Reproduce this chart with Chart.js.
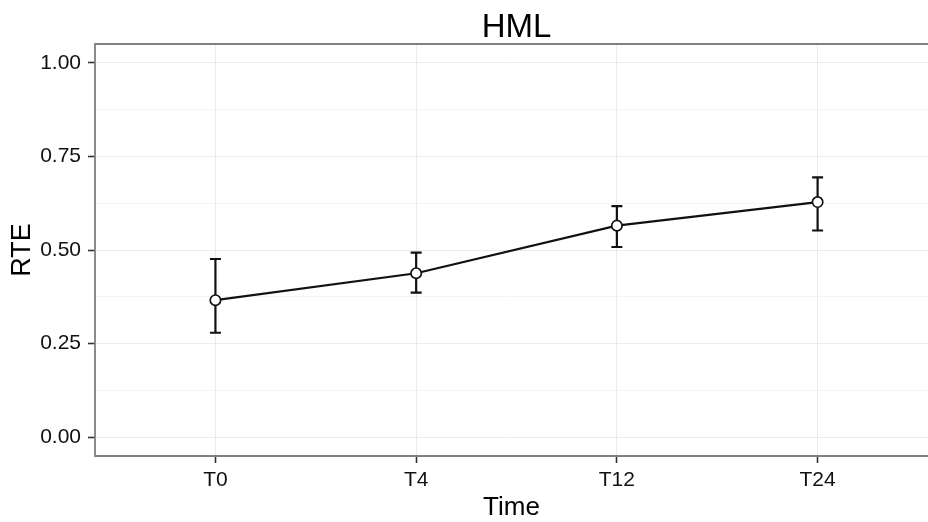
<!DOCTYPE html>
<html>
<head>
<meta charset="utf-8">
<script src="https://cdn.jsdelivr.net/npm/chart.js@4.4.1/dist/chart.umd.min.js"></script>
<style>
  html, body { margin: 0; padding: 0; background: #ffffff; overflow: hidden; }
  canvas { display: block; }
</style>
</head>
<body>
<canvas id="c" width="928" height="522"></canvas>
<script>
const categories = ['T0', 'T4', 'T12', 'T24'];
const rteMean  = [0.366, 0.438, 0.565, 0.628];
const rteLower = [0.279, 0.386, 0.508, 0.552];
const rteUpper = [0.476, 0.493, 0.617, 0.694];
const yMajorTicks = [0, 0.25, 0.5, 0.75, 1];
const yMinorTicks = [0.125, 0.375, 0.625, 0.875];
const chartTitle = 'HML';

const FONT = "'Liberation Sans', Arial, Helvetica, sans-serif";
const isMajor = v => yMajorTicks.some(m => Math.abs(m - v) < 1e-9);

const errorBars = {
  id: 'errorBars',
  beforeDatasetsDraw(chart) {
    const { ctx, scales: { x, y } } = chart;
    ctx.save();
    ctx.strokeStyle = '#111111';
    ctx.lineWidth = 2.2;
    categories.forEach((c, i) => {
      const px = x.getPixelForValue(i);
      const yl = y.getPixelForValue(rteLower[i]);
      const yu = y.getPixelForValue(rteUpper[i]);
      ctx.beginPath();
      ctx.moveTo(px, yl); ctx.lineTo(px, yu);
      ctx.moveTo(px - 5.5, yl); ctx.lineTo(px + 5.5, yl);
      ctx.moveTo(px - 5.5, yu); ctx.lineTo(px + 5.5, yu);
      ctx.stroke();
    });
    ctx.restore();
  }
};

const panelBorderAndTitle = {
  id: 'panelBorderAndTitle',
  afterDraw(chart) {
    const { ctx, chartArea: a, scales: { x } } = chart;
    ctx.save();
    ctx.strokeStyle = '#808080';
    ctx.lineWidth = 1.8;
    ctx.beginPath();
    ctx.moveTo(a.right + 2, a.top);
    ctx.lineTo(a.left, a.top);
    ctx.lineTo(a.left, a.bottom);
    ctx.lineTo(a.right + 2, a.bottom);
    ctx.stroke();
    // plot title centred over the (wider, cropped) panel
    const cx = (x.getPixelForValue(x.min) + x.getPixelForValue(-0.6 + 4.2)) / 2;
    ctx.fillStyle = '#000000';
    ctx.font = "33px " + FONT;
    ctx.textAlign = 'center';
    ctx.textBaseline = 'alphabetic';
    ctx.fillText(chartTitle, cx, 37);
    ctx.restore();
  }
};

new Chart(document.getElementById('c'), {
  type: 'line',
  data: {
    datasets: [{
      data: categories.map((c, i) => ({ x: i, y: rteMean[i] })),
      borderColor: '#111111',
      borderWidth: 2.2,
      pointRadius: 5.2,
      pointBorderWidth: 1.7,
      pointBackgroundColor: '#ffffff',
      pointBorderColor: '#111111',
      tension: 0,
      fill: false
    }]
  },
  options: {
    responsive: false,
    animation: false,
    events: [],
    layout: { autoPadding: false, padding: { left: 0, right: 0, top: 44, bottom: 0 } },
    plugins: {
      legend: { display: false },
      tooltip: { enabled: false },
      title: { display: false }
    },
    scales: {
      x: {
        type: 'linear',
        min: -0.6,
        max: 3.55,
        afterBuildTicks(scale) { scale.ticks = categories.map((c, i) => ({ value: i })); },
        afterFit(scale) { scale.height = 66; scale.paddingRight = 0; scale.paddingLeft = 0; },
        ticks: {
          autoSkip: false,
          maxRotation: 0,
          color: '#111111',
          padding: 5,
          font: { family: FONT, size: 21 },
          callback: v => categories[v]
        },
        grid: {
          color: '#ebebeb',
          lineWidth: 1,
          tickLength: 7,
          tickColor: '#333333',
          tickWidth: 1.6
        },
        border: { display: false },
        title: {
          display: true,
          text: 'Time',
          color: '#000000',
          font: { family: FONT, size: 26, lineHeight: 1 },
          padding: { top: 0, bottom: 1 }
        }
      },
      y: {
        min: -0.05,
        max: 1.05,
        afterBuildTicks(scale) {
          scale.ticks = yMajorTicks.concat(yMinorTicks).sort((a, b) => a - b).map(v => ({ value: v }));
        },
        afterFit(scale) { scale.width = 95; scale.paddingTop = 0; scale.paddingBottom = 0; },
        ticks: {
          autoSkip: false,
          color: '#111111',
          padding: 7,
          font: { family: FONT, size: 21 },
          callback: v => isMajor(v) ? v.toFixed(2) : ''
        },
        grid: {
          color: ctx => isMajor(ctx.tick.value) ? '#ebebeb' : '#f4f4f4',
          lineWidth: 1,
          tickLength: 7,
          tickColor: ctx => isMajor(ctx.tick.value) ? '#333333' : 'rgba(0,0,0,0)',
          tickWidth: 1.6
        },
        border: { display: false },
        title: {
          display: true,
          text: 'RTE',
          color: '#000000',
          font: { family: FONT, size: 27, lineHeight: 1 },
          padding: { top: 9, bottom: 0 }
        }
      }
    }
  },
  plugins: [errorBars, panelBorderAndTitle]
});
</script>
</body>
</html>
